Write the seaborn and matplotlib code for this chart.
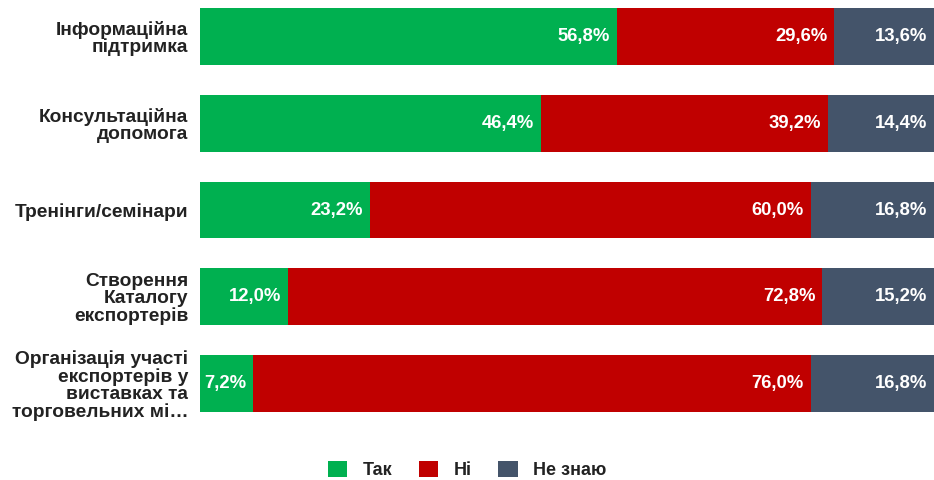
import matplotlib
matplotlib.use("Agg")
import matplotlib.pyplot as plt
import seaborn as sns
import pandas as pd
from matplotlib.patches import Patch

categories = ["Інформаційна\nпідтримка", "Консультаційна\nдопомога", "Тренінги/семінари",
              "Створення\nКаталогу\nекспортерів",
              "Організація участі\nекспортерів у\nвиставках та\nторговельних мі…"]
tak = [56.8, 46.4, 23.2, 12.0, 7.2]
ni = [29.6, 39.2, 60.0, 72.8, 76.0]
ne_znayu = [13.6, 14.4, 16.8, 15.2, 16.8]
series_names = ["Так", "Ні", "Не знаю"]
colors = ["#00b050", "#c00000", "#44546a"]

sns.set_style("white")
plt.rcParams["font.family"] = ["Liberation Sans", "DejaVu Sans"]

df = pd.DataFrame({"cat": categories, "Так": tak, "Ні": ni, "Не знаю": ne_znayu})
df["c1"] = df["Так"]
df["c2"] = df["Так"] + df["Ні"]
df["c3"] = df["c2"] + df["Не знаю"]

fig = plt.figure(figsize=(9.34, 4.8), dpi=100)
ax = fig.add_axes([200 / 934, 1 - 412 / 480, 734 / 934, 404 / 480])

w = 0.655
for col, color in zip(["c3", "c2", "c1"], colors[::-1]):
    sns.barplot(data=df, x=col, y="cat", order=categories, color=color,
                width=w, ax=ax, saturation=1, edgecolor="none", linewidth=0)

ax.set_xlim(0, 100)
ax.set_ylim(4 + w / 2, -w / 2)
ax.set_xlabel("")
ax.set_ylabel("")
ax.set_xticks([])
sns.despine(ax=ax, left=True, bottom=True)
ax.tick_params(axis="y", length=0, pad=8.5)
for lbl in ax.get_yticklabels():
    lbl.set_fontsize(13.8)
    lbl.set_fontweight("bold")
    lbl.set_color("#222222")
    lbl.set_linespacing(1.0)
    lbl.set_horizontalalignment("right")
    lbl.set_multialignment("right")

for i in range(len(categories)):
    ends = [df["c1"][i], df["c2"][i], df["c3"][i]]
    vals = [tak[i], ni[i], ne_znayu[i]]
    for e, v in zip(ends, vals):
        ax.annotate(f"{v:.1f}%".replace(".", ","), xy=(e, i), xytext=(-5, 0),
                    textcoords="offset points", ha="right", va="center",
                    color="white", fontsize=13.3, fontweight="bold")

handles = [Patch(facecolor=c, edgecolor="none") for c in colors]
fig.legend(handles, series_names, loc="center", bbox_to_anchor=(0.5, 1 - 470 / 480),
           ncol=3, frameon=False, handlelength=1.1, handleheight=1.0,
           handletextpad=0.85, columnspacing=1.45,
           prop={"size": 13, "weight": "bold"}, labelcolor="#222222")

fig.savefig("out.png", dpi=100)
